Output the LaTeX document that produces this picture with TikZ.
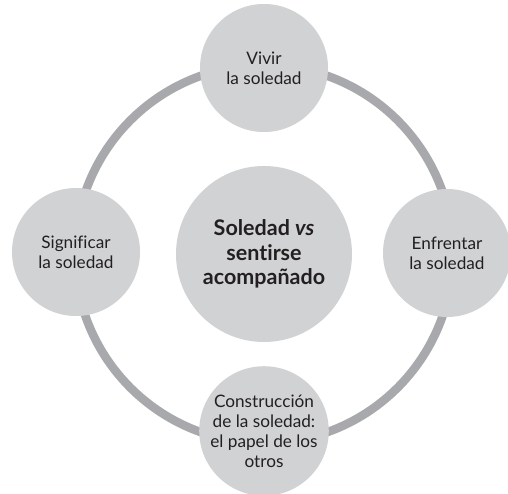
\documentclass[tikz,border=0pt]{standalone}
\usepackage{fontspec}
\setmainfont[Ligatures=NoCommon]{Lato}
\definecolor{bubble}{HTML}{D1D2D4}
\definecolor{ringc}{HTML}{A7A9AC}
\definecolor{ink}{HTML}{231F20}
\begin{document}
\begin{tikzpicture}[x=1pt,y=-1pt,
  outer/.style={circle,fill=bubble,minimum size=128pt,inner sep=0pt,align=center,text=ink,
    font=\fontsize{17.2}{20}\selectfont},
  hub/.style={circle,fill=bubble,minimum size=176pt,inner sep=0pt,align=center,text=ink,
    font=\fontsize{21.5}{24.5}\selectfont\bfseries}]
\path[use as bounding box,clip] (0,0) rectangle (508,494);
\fill[white] (0,0) rectangle (508,494);
\coordinate (c) at (264,254);
\draw[ringc,line width=8.5pt] (c) circle[radius=189pt];
\node[hub] (hub) at (264,254) {Soledad \textit{vs}\\sentirse\\acompañado};
\node[outer] (top) at (264,68) {Vivir\\la soledad};
\node[outer] (left) at (76,252) {Significar\\la soledad};
\node[outer] (right) at (447,253) {Enfrentar\\la soledad};
\node[outer] (bottom) at (264,431) {Construcción\\de la soledad:\\el papel de los\\otros};
\end{tikzpicture}
\end{document}
